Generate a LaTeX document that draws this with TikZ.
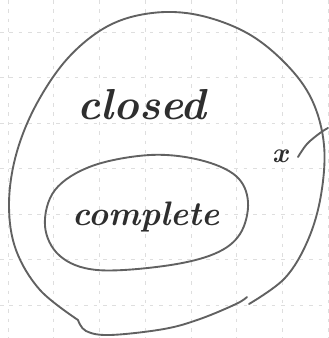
\documentclass[tikz,border=0pt]{standalone}
\usepackage{fontspec}
\usepackage{tikz}
\usetikzlibrary{positioning}

\begin{document}
\begin{tikzpicture}[
    x=0.03cm, y=-0.03cm,
    grid/.style={draw=black!13, dashed, dash pattern=on 3pt off 5pt, line width=0.5pt},
    pen/.style={draw=black!62, line width=1.6pt, line cap=round, line join=round},
    hand/.style={text=black!82, font=\fontsize{37}{40}\selectfont\bfseries\itshape, inner sep=0pt}
  ]
    \useasboundingbox (0,0) rectangle (328,338);
    \fill[white] (0,0) rectangle (328,338);

    % paper grid
    \foreach \k in {0,...,7} {
      \draw[grid] ({8+45.7*\k},0) -- ({8+45.7*\k},338);
      \draw[grid] (0,{32+45.5*\k}) -- (328,{32+45.5*\k});
    }

    % outer set
    \draw[pen] plot[smooth, tension=0.6] coordinates {
      (249,304) (285,278) (308,240) (321,195) (324,145) (312,100) (286,64)
      (247,33) (198,15) (152,13) (108,26) (68,58) (36,105) (16,155)
      (9,205) (16,250) (40,290) (78,320)};
    \draw[pen] plot[smooth, tension=0.6] coordinates {
      (78,320) (86,331) (110,335) (164,329) (200,319) (236,304) (247,297)};
    % tangent stroke through the rim
    \draw[pen] plot[smooth, tension=0.6] coordinates {
      (298,157) (307,144) (320,133) (328,128)};

    % inner set
    \draw[pen] plot[smooth cycle, tension=0.6] coordinates {
      (150,155) (200,160) (236,176) (248,202) (240,234) (214,254)
      (164,266) (97,270) (60,256) (45,226) (55,190) (92,166)};

    \node[hand] (closed) at (142,105) {closed};
    \node[hand, font=\fontsize{29}{32}\selectfont\bfseries\itshape] (complete) at (146,217) {complete};
    \node[hand, font=\fontsize{24}{26}\selectfont\bfseries\itshape] (point) at (280,156) {x};
  \end{tikzpicture}
\end{document}
